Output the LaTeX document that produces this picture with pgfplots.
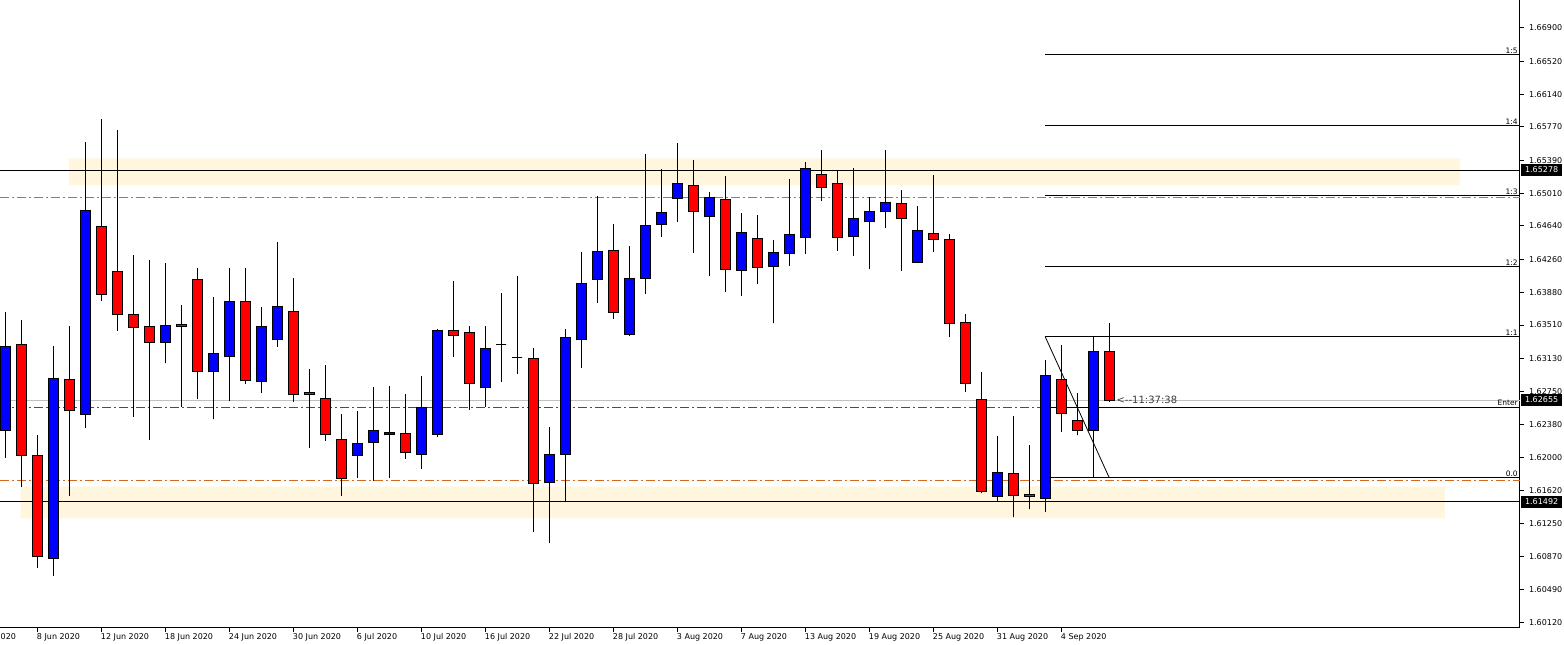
\documentclass[border=0pt]{standalone}
\usepackage{fontspec}
\setmainfont{DejaVu Sans}
\usepackage{pgfplots}
\usepackage{pgfplotstable}
\pgfplotsset{compat=1.18}

\definecolor{bull}{RGB}{0,0,255}
\definecolor{bear}{RGB}{255,0,0}
\definecolor{zone}{RGB}{255,246,221}
\definecolor{lvlorange}{RGB}{210,105,30}
\definecolor{lvlgreen}{RGB}{45,100,45}
\definecolor{bidgray}{RGB}{192,192,192}
\definecolor{timergray}{RGB}{60,60,60}

\newcommand\tickfont{\fontsize{8}{9}\selectfont}
\newcommand\fibfont{\fontsize{7.5}{8}\selectfont}

% daily candles, 4 Jun - 9 Sep 2020 (index 0..69)
\pgfplotstableread{
i o h l c
0 1.62305 1.63662 1.61997 1.63271
1 1.63291 1.63568 1.61667 1.62025
2 1.62017 1.62256 1.60743 1.60876
3 1.60850 1.63271 1.60652 1.62903
4 1.62891 1.63499 1.61564 1.62541
5 1.62492 1.65594 1.62339 1.64811
6 1.64636 1.65860 1.63784 1.63861
7 1.64123 1.65734 1.63446 1.63632
8 1.63632 1.64309 1.62465 1.63480
9 1.63496 1.64252 1.62199 1.63309
10 1.63309 1.64218 1.63074 1.63507
11 1.63519 1.63739 1.62579 1.63491
12 1.64024 1.64161 1.62663 1.62978
13 1.62978 1.63833 1.62435 1.63188
14 1.63149 1.64161 1.62647 1.63784
15 1.63784 1.64161 1.62841 1.62880
16 1.62864 1.63716 1.62732 1.63488
17 1.63348 1.64457 1.63263 1.63727
18 1.63670 1.64043 1.62636 1.62720
19 1.62743 1.63009 1.62111 1.62720
20 1.62675 1.63054 1.62191 1.62264
21 1.62207 1.62496 1.61564 1.61758
22 1.62025 1.62526 1.61766 1.62162
23 1.62173 1.62807 1.61735 1.62310
24 1.62264 1.62815 1.61766 1.62287
25 1.62276 1.62724 1.61986 1.62059
26 1.62036 1.62929 1.61872 1.62572
27 1.62264 1.63462 1.62230 1.63450
28 1.63450 1.64009 1.63149 1.63393
29 1.63427 1.63499 1.62545 1.62846
30 1.62800 1.63499 1.62572 1.63245
31 1.63283 1.63872 1.62864 1.63283
32 1.63138 1.64070 1.62955 1.63138
33 1.63131 1.63245 1.61153 1.61705
34 1.61717 1.62347 1.61019 1.62028
35 1.62036 1.63463 1.61489 1.63370
36 1.63348 1.64343 1.63015 1.63986
37 1.64032 1.64982 1.63765 1.64351
38 1.64363 1.64662 1.63582 1.63655
39 1.63405 1.64411 1.63389 1.64043
40 1.64043 1.65461 1.63867 1.64648
41 1.64659 1.65286 1.64517 1.64796
42 1.64955 1.65586 1.64688 1.65126
43 1.65103 1.65392 1.64335 1.64807
44 1.64748 1.65027 1.64073 1.64967
45 1.64944 1.65210 1.63890 1.64146
46 1.64135 1.64784 1.63845 1.64568
47 1.64499 1.64762 1.63982 1.64169
48 1.64180 1.64476 1.63530 1.64340
49 1.64328 1.65172 1.64187 1.64545
50 1.64511 1.65366 1.64324 1.65298
51 1.65229 1.65503 1.64921 1.65081
52 1.65126 1.65275 1.64358 1.64511
53 1.64522 1.65298 1.64301 1.64727
54 1.64693 1.64967 1.64146 1.64807
55 1.64807 1.65503 1.64620 1.64910
56 1.64898 1.65047 1.64130 1.64727
57 1.64226 1.64864 1.64226 1.64591
58 1.64556 1.65218 1.64347 1.64488
59 1.64488 1.64545 1.63370 1.63530
60 1.63541 1.63636 1.62743 1.62846
61 1.62663 1.62971 1.61591 1.61614
62 1.61557 1.62245 1.61492 1.61831
63 1.61819 1.62473 1.61318 1.61569
64 1.61580 1.62142 1.61409 1.61557
65 1.61534 1.63111 1.61375 1.62937
66 1.62891 1.63279 1.62287 1.62504
67 1.62424 1.62732 1.62253 1.62310
68 1.62310 1.63377 1.61762 1.63211
69 1.63211 1.63533 1.62629 1.62652
}\ohlc

\pgfplotsset{
  wick/.style={black, line width=1pt, mark=none, solid},
  body/.style={draw=black, line width=1pt, mark=none, solid},
  hline/.style={line width=1pt, mark=none},
  dashdot/.style={dash pattern=on 9pt off 3pt on 2pt off 3pt},
}

\begin{document}
\begin{tikzpicture}
\useasboundingbox (0,-17pt) rectangle (1564pt,628pt);
\begin{axis}[
    at={(0,0)}, anchor=south west,
    scale only axis,
    width=1520pt, height=628pt,
    xmin=-0.33, xmax=94.67,
    ymin=1.60055, ymax=1.67217,
    axis x line*=bottom, axis y line*=right,
    axis line style={black, line width=1pt},
    tick align=outside, major tick length=4pt,
    tick style={black, line width=1pt},
    xtick={2,6,...,66},
    xticklabels={8 Jun 2020,12 Jun 2020,18 Jun 2020,24 Jun 2020,30 Jun 2020,6 Jul 2020,10 Jul 2020,16 Jul 2020,22 Jul 2020,28 Jul 2020,3 Aug 2020,7 Aug 2020,13 Aug 2020,19 Aug 2020,25 Aug 2020,31 Aug 2020,4 Sep 2020},
    xticklabel style={anchor=north west, xshift=-1.5pt, inner sep=1pt, font=\tickfont},
    ytick={1.66900,1.66520,1.66140,1.65770,1.65390,1.65010,1.64640,1.64260,1.63880,1.63510,1.63130,1.62750,1.62380,1.62000,1.61620,1.61250,1.60870,1.60490,1.60120},
    yticklabels={1.66900,1.66520,1.66140,1.65770,1.65390,1.65010,1.64640,1.64260,1.63880,1.63510,1.63130,1.62750,1.62380,1.62000,1.61620,1.61250,1.60870,1.60490,1.60120},
    yticklabel style={anchor=west, xshift=4pt, inner sep=1pt, font=\tickfont},
    scaled y ticks=false,
]
% supply / demand zones
\addplot[fill=zone, draw=none] coordinates {(3.98,1.65107) (90.92,1.65107) (90.92,1.65412) (3.98,1.65412) (3.98,1.65107)};
\addplot[fill=zone, draw=none] coordinates {(0.96,1.61306) (89.98,1.61306) (89.98,1.61667) (0.96,1.61667) (0.96,1.61306)};

% bid line and horizontal levels
\addplot[hline, bidgray] coordinates {(-0.33,1.62655) (94.67,1.62655)};
\addplot[hline, lvlgreen, dashdot] coordinates {(-0.33,1.62575) (94.67,1.62575)};
\addplot[hline, lvlorange, dashdot] coordinates {(-0.33,1.64962) (94.67,1.64962)};
\addplot[hline, lvlorange, dashdot] coordinates {(-0.33,1.61732) (94.67,1.61732)};
\addplot[hline, black] coordinates {(-0.33,1.65278) (94.67,1.65278)};
\addplot[hline, black] coordinates {(-0.33,1.61492) (94.67,1.61492)};

% fibonacci expansion
\addplot[hline, black] coordinates {(65,1.66591) (94.67,1.66591)};
\addplot[hline, black] coordinates {(65,1.65788) (94.67,1.65788)};
\addplot[hline, black] coordinates {(65,1.64984) (94.67,1.64984)};
\addplot[hline, black] coordinates {(65,1.64181) (94.67,1.64181)};
\addplot[hline, black] coordinates {(65,1.63377) (94.67,1.63377)};
\addplot[hline, black] coordinates {(65,1.62574) (94.67,1.62574)};
\addplot[hline, black] coordinates {(65,1.61770) (94.67,1.61770)};
\addplot[black, line width=0.8pt, mark=none] coordinates {(65,1.63377) (69,1.61770)};

% candles: wick, then body on top
\pgfplotsinvokeforeach{0,...,69}{%
  \pgfplotstablegetelem{#1}{o}\of\ohlc \let\cO\pgfplotsretval
  \pgfplotstablegetelem{#1}{h}\of\ohlc \let\cH\pgfplotsretval
  \pgfplotstablegetelem{#1}{l}\of\ohlc \let\cL\pgfplotsretval
  \pgfplotstablegetelem{#1}{c}\of\ohlc \let\cC\pgfplotsretval
  \ifdim\cC pt<\cO pt
    \let\cLo\cC \let\cHi\cO \def\cCol{bear}%
  \else
    \let\cLo\cO \let\cHi\cC \def\cCol{bull}%
  \fi
  \pgfmathsetmacro\xl{#1-0.3125}%
  \pgfmathsetmacro\xr{#1+0.3125}%
  \edef\candle{%
    \noexpand\addplot[wick] coordinates {(#1,\cL) (#1,\cH)};
    \noexpand\addplot[body, fill=\cCol] coordinates
      {(\xl,\cLo) (\xr,\cLo) (\xr,\cHi) (\xl,\cHi) (\xl,\cLo)};}%
  \candle
}

\coordinate (f5) at (axis cs:94.67,1.66591);
\coordinate (f4) at (axis cs:94.67,1.65788);
\coordinate (f3) at (axis cs:94.67,1.64984);
\coordinate (f2) at (axis cs:94.67,1.64181);
\coordinate (f1) at (axis cs:94.67,1.63377);
\coordinate (fe) at (axis cs:94.67,1.62574);
\coordinate (f0) at (axis cs:94.67,1.61770);
\coordinate (p1) at (axis cs:94.67,1.65278);
\coordinate (p2) at (axis cs:94.67,1.62655);
\coordinate (p3) at (axis cs:94.67,1.61492);
\coordinate (tm) at (axis cs:69.45,1.62652);
\coordinate (d0) at (axis cs:-2,1.60055);
\end{axis}

\foreach \c/\t in {f5/1:5, f4/1:4, f3/1:3, f2/1:2, f1/1:1, fe/Enter, f0/0.0}
  \node[anchor=south east, inner sep=1pt, xshift=-1pt, font=\fibfont] at (\c) {\t};
\foreach \c/\t in {p1/1.65278, p2/1.62655, p3/1.61492}
  \node[anchor=west, xshift=1pt, fill=black, text=white, inner xsep=4pt,
        inner ysep=0pt, minimum height=12pt, font=\tickfont] at (\c) {\t};
\node[anchor=west, inner sep=0pt, text=timergray,
      font=\fontsize{10}{12}\selectfont] at (tm) {<-{}-11:37:38};
\node[anchor=north west, xshift=-1.5pt, yshift=-4pt, inner sep=1pt, font=\tickfont]
  at (d0) {2 Jun 2020};
\end{tikzpicture}
\end{document}
